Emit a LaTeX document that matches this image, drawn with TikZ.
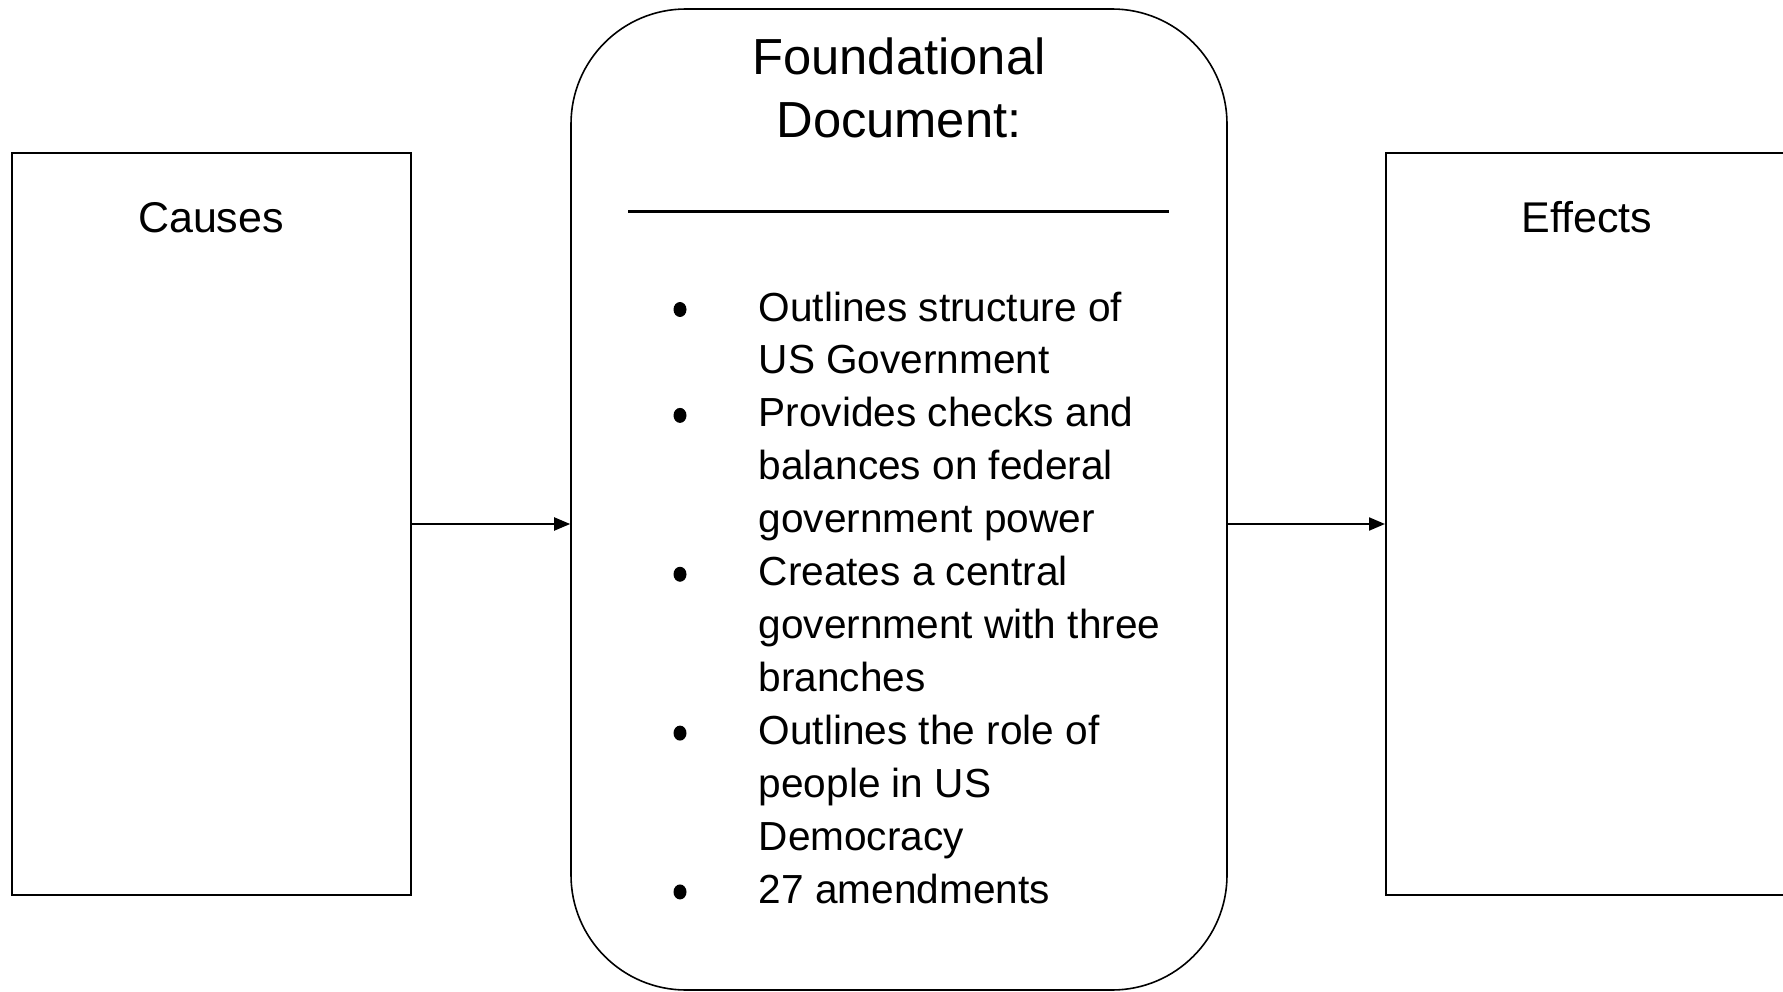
\documentclass[tikz,border=0pt]{standalone}
\usepackage{fontspec}
\setmainfont{Liberation Sans}
\usetikzlibrary{arrows.meta}
\begin{document}
\begin{tikzpicture}[x=1pt,y=-1pt,
  sqbox/.style={draw, line width=2pt, inner sep=0pt, minimum height=741.5pt},
  docbox/.style={draw, line width=1.6pt, inner sep=0pt, rounded corners=115pt,
    minimum width=656pt, minimum height=981pt},
  arr/.style={line width=2pt, -{Triangle[length=16pt,width=13pt]}},
  lbl/.style={anchor=base, inner sep=0pt, font=\fontsize{43}{50}\selectfont},
  ttl/.style={anchor=base, inner sep=0pt, font=\fontsize{50.7}{60}\selectfont},
  itm/.style={anchor=base west, inner sep=0pt, font=\fontsize{40.6}{52.95}\selectfont}]
\useasboundingbox (0,0) rectangle (1783,992);
\clip (0,0) rectangle (1783,992);
\fill[white] (0,0) rectangle (1783,992);
\node[sqbox, minimum width=399pt] (causes) at (211,524) {};
\node[sqbox, minimum width=402pt] (effects) at (1587,524) {};
\node[docbox] (doc) at (899,499.5) {};
\node[lbl] (causeslbl) at (211,233) {Causes};
\node[lbl] (effectslbl) at (1587,233) {Effects};
\node[ttl] (t1) at (899,75) {Foundational};
\node[ttl] (t2) at (899,138) {Document:};
\draw[line width=2.5pt] (628,211.5) coordinate (sepa) -- (1169,211.5) coordinate (sepb);
\draw[arr] (causes.east) -- (causes.east -| doc.west);
\draw[arr] (doc.east |- effects.west) -- (effects.west);
\foreach \t [count=\i from 0] in {Outlines structure of, US Government, Provides checks and, balances on federal, government power, Creates a central, government with three, branches, Outlines the role of, people in US, Democracy, 27 amendments}
  \node[itm] (line\i) at (758.5,{321+52.95*\i}) {\t};
\foreach \i in {0,2,5,8,11}
  \fill (680,{321+52.95*\i-11.5}) ellipse (6.5pt and 7.5pt);
\end{tikzpicture}
\end{document}
